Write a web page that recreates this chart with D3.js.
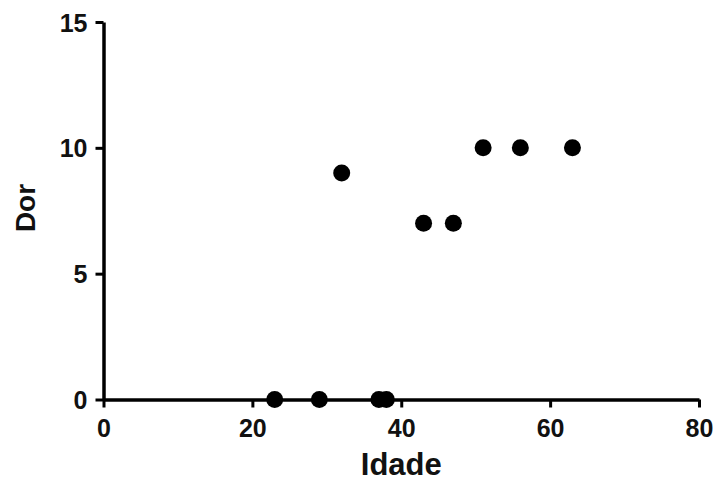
<!DOCTYPE html>
<html>
<head>
<meta charset="utf-8">
<script src="https://cdn.jsdelivr.net/npm/d3@7"></script>
<style>
    body { margin: 0; background: #fff; }
    text { font-family: "Liberation Sans", Arial, sans-serif; font-weight: bold; fill: #111; }
</style>
</head>
<body>
<svg id="chart" width="716" height="483"></svg>
<script>
    // Idade (x) vs Dor (y)
    var idade = [23, 29, 32, 37, 38, 43, 47, 51, 56, 63],
        dor = [0, 0, 9, 0, 0, 7, 7, 10, 10, 10],
        xTicks = [0, 20, 40, 60, 80],
        yTicks = [0, 5, 10, 15];

    var svg = d3.select("#chart"),
        plotLeft = 103.5, plotRight = 699, plotTop = 22, plotBottom = 399.5;

    var x = d3.scaleLinear().domain([0, 80]).range([plotLeft, plotRight]),
        y = d3.scaleLinear().domain([0, 15]).range([plotBottom, plotTop]);

    // x axis
    var xAxis = svg.append("g")
        .attr("transform", "translate(0," + plotBottom + ")")
        .call(d3.axisBottom(x).tickValues(xTicks).tickSize(8).tickPadding(11).tickSizeOuter(0));
    xAxis.select(".domain").attr("stroke", "#000").attr("stroke-width", 3.5);
    xAxis.selectAll(".tick line").attr("stroke", "#000").attr("stroke-width", 3);
    xAxis.selectAll(".tick text").style("font-size", "25px").attr("dy", "0.72em");

    // y axis
    var yAxis = svg.append("g")
        .attr("transform", "translate(" + plotLeft + ",0)")
        .call(d3.axisLeft(y).tickValues(yTicks).tickSize(8).tickPadding(8).tickSizeOuter(0));
    yAxis.select(".domain").attr("stroke", "#000").attr("stroke-width", 3.5);
    yAxis.selectAll(".tick line").attr("stroke", "#000").attr("stroke-width", 3);
    yAxis.selectAll(".tick text").style("font-size", "25px").attr("dy", "0.36em");

    // labels
    svg.append("text")
        .attr("x", (plotLeft + plotRight) / 2)
        .attr("y", 475)
        .attr("text-anchor", "middle")
        .style("font-size", "31px")
        .text("Idade");

    svg.append("text")
        .attr("transform", "translate(35,208) rotate(-90)")
        .attr("text-anchor", "middle")
        .style("font-size", "28px")
        .text("Dor");

    // points
    svg.append("g").selectAll("circle")
        .data(idade)
        .enter()
        .append("circle")
            .attr("cx", function(d) { return x(d); })
            .attr("cy", function(d, i) { return y(dor[i]); })
            .attr("r", 8.5)
            .attr("fill", "#000");
</script>
</body>
</html>
